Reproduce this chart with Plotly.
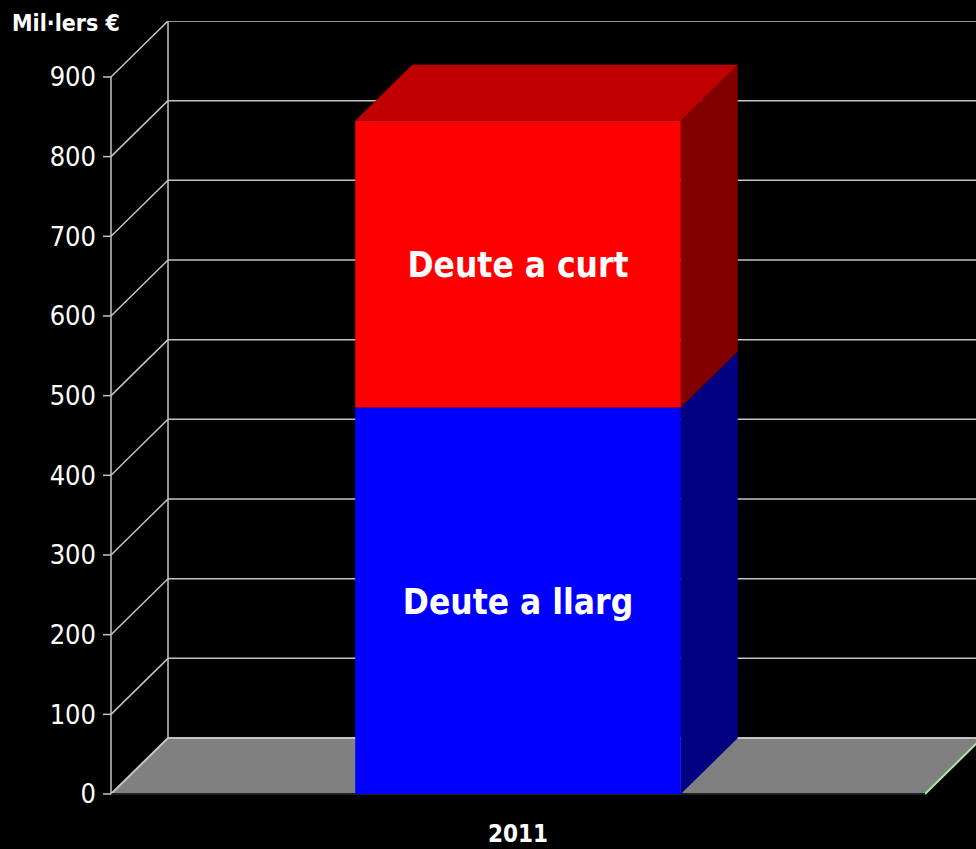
import plotly.graph_objects as go

# ---- data ----
categories = ["2011"]
long_term = [485]    # Deute a llarg
short_term = [360]   # Deute a curt
series_names = ["Deute a llarg", "Deute a curt"]
y_ticks = [0, 100, 200, 300, 400, 500, 600, 700, 800, 900]
y_title = "Mil·lers €"

# ---- geometry / style (axis units) ----
PX_X = 814.0          # px per x unit
PX_Y = 0.7967         # px per y unit
BAR_W = 0.40
DX = 57 / PX_X        # depth offset in x units
DY = 56 / PX_Y        # depth offset in y units
X_MIN = -0.5 - 8 / PX_X
X_MAX = -0.5 + 865 / PX_X
Y_MIN = -2.5
Y_MAX = 773 / PX_Y
TICK_LEN = 8 / PX_X
LABEL_SHIFT = -4 / PX_Y

FONT = "DejaVu Sans Condensed, Liberation Sans Narrow, Arial Narrow, sans-serif"
GRID = "#c4c4c4"
FRONT = ["#0000ff", "#ff0000"]
SIDE = ["#000080", "#800000"]
TOP = ["#000080", "#c00000"]

fig = go.Figure()


def poly(xs, ys, color):
    fig.add_trace(go.Scatter(x=xs + [xs[0]], y=ys + [ys[0]], mode="none", fill="toself",
                             fillcolor=color, hoverinfo="skip", showlegend=False))


def seg(xs, ys, color, width=1.5):
    fig.add_trace(go.Scatter(x=xs, y=ys, mode="lines", line=dict(color=color, width=width),
                             hoverinfo="skip", showlegend=False))


x_left = -0.5
x_right = 0.5
top_tick = y_ticks[-1]

# back wall horizontal grid lines and left wall oblique lines
for v in y_ticks[1:]:
    seg([x_left + DX, X_MAX], [v + DY, v + DY], GRID)
    seg([x_left, x_left + DX], [v, v + DY], GRID)
# back-left vertical edge
seg([x_left + DX, x_left + DX], [DY, top_tick + DY], GRID)

# floor
poly([x_left, x_right, x_right + DX, x_left + DX], [0, 0, DY, DY], "#808080")
seg([x_left + DX, X_MAX], [DY, DY], GRID, 2)
seg([x_left, x_left + DX], [0, DY], GRID, 2)
seg([x_right, x_right + DX], [0, DY], "#a8eaa8", 2)
seg([x_left, x_right], [0, 0], "#202020", 2)

# front axis line and ticks
seg([x_left, x_left], [0, top_tick], GRID)
for v in y_ticks:
    seg([x_left - TICK_LEN, x_left], [v, v], GRID)

# stacked 3D bars
for i, cat in enumerate(categories):
    xc = i
    x0, x1 = xc - BAR_W / 2, xc + BAR_W / 2
    base = 0
    stacks = [long_term[i], short_term[i]]
    for k, val in enumerate(stacks):
        top = base + val
        poly([x1, x1 + DX, x1 + DX, x1], [base, base + DY, top + DY, top], SIDE[k])
        poly([x0, x1, x1, x0], [base, base, top, top], FRONT[k])
        fig.add_trace(go.Scatter(x=[xc], y=[base + val / 2 + LABEL_SHIFT], mode="text",
                                 text=[series_names[k]],
                                 textfont=dict(family=FONT, size=35, color="white", weight="bold"),
                                 hoverinfo="skip", showlegend=False))
        base = top
    poly([x0, x1, x1 + DX, x0 + DX], [base, base, base + DY, base + DY], TOP[-1])

fig.add_annotation(text="<b>" + y_title + "</b>", xref="paper", yref="paper",
                   x=(10 - 103) / 873, y=(796 - 23) / 775, xanchor="left", yanchor="middle",
                   showarrow=False, font=dict(family=FONT, size=23, color="white"))

fig.update_layout(
    width=976, height=849,
    margin=dict(l=103, r=0, t=21, b=53),
    paper_bgcolor="black", plot_bgcolor="black",
    showlegend=False,
    xaxis=dict(range=[X_MIN, X_MAX], showgrid=False, zeroline=False, showline=False,
               automargin=False,
               tickvals=list(range(len(categories))), ticktext=["<b>" + c + "</b>" for c in categories],
               ticks="", tickfont=dict(family=FONT, size=24, color="white"), ticklabelstandoff=21),
    yaxis=dict(range=[Y_MIN, Y_MAX], showgrid=False, zeroline=False, showline=False,
               automargin=False,
               tickvals=y_ticks, ticks="", tickfont=dict(family=FONT, size=27, color="white"),
               ticklabelstandoff=6),
)

fig.write_html("out.html", config={"displayModeBar": False},
               post_script="document.body.style.margin='0';document.body.style.overflow='hidden';")
